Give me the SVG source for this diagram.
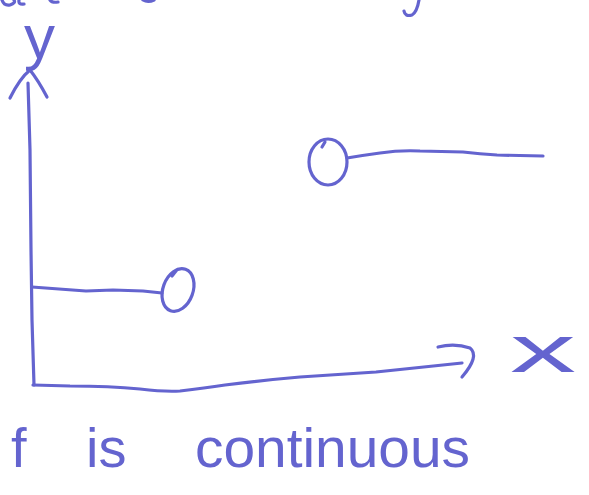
<svg xmlns="http://www.w3.org/2000/svg" width="589" height="495" viewBox="0 0 589 495">
<style>
.ink{fill:none;stroke:#6464cf;stroke-width:3.2;stroke-linecap:round;stroke-linejoin:round}
.lbl{fill:#6464cf;font-family:"Liberation Sans","DejaVu Sans",sans-serif}
</style>
<rect width="589" height="495" fill="#ffffff"/>
<g id="fragments">
<path class="ink" d="M2 0 Q4 6 10 5 Q16 3 14 0"/>
<path class="ink" d="M19 0 Q18 5 24 4"/>
<path class="ink" d="M50 0 Q52 3 58 2"/>
<path class="ink" d="M143 0 Q148 3 154 0"/>
<path class="ink" d="M419 0 Q417 12 412 15 Q405 17 404 11"/>
</g>
<g id="axes">
<path class="ink" d="M28 83 L30 150 L31 250 L32 320 L34 385"/>
<path class="ink" d="M10 98 Q20 78 30 70 Q38 80 47 97"/>
<path class="ink" d="M33 385 L70 386 Q110 386 140 389 Q165 392 180 391 Q205 388 225 385 Q265 380 300 377 L376 372 L462 363"/>
<path class="ink" d="M438 347 Q455 343 470 348 Q480 356 462 377"/>
</g>
<g id="lower-piece">
<path class="ink" d="M32 287 L86 291 L113 290 L143 291 L162 293"/>
<ellipse class="ink" cx="178" cy="290" rx="15" ry="22" transform="rotate(20 178 290)"/>
<path class="ink" d="M172 276 L176 271"/>
</g>
<g id="upper-piece">
<ellipse class="ink" cx="328" cy="162" rx="19" ry="23"/>
<path class="ink" d="M322 147 L325 142"/>
<path class="ink" d="M347 158 Q365 155 380 153 Q400 150 420 151 L463 152 Q480 154 497 155 L543 156"/>
</g>
<g id="labels">
<text class="lbl" x="24" y="58" font-size="62">y</text>
<text class="lbl" x="510" y="372" font-size="66" textLength="66" lengthAdjust="spacingAndGlyphs">x</text>
<text class="lbl" y="467" font-size="56"><tspan x="11">f</tspan><tspan x="86">is</tspan><tspan x="195" textLength="275" lengthAdjust="spacingAndGlyphs">continuous</tspan></text>
</g>
</svg>
